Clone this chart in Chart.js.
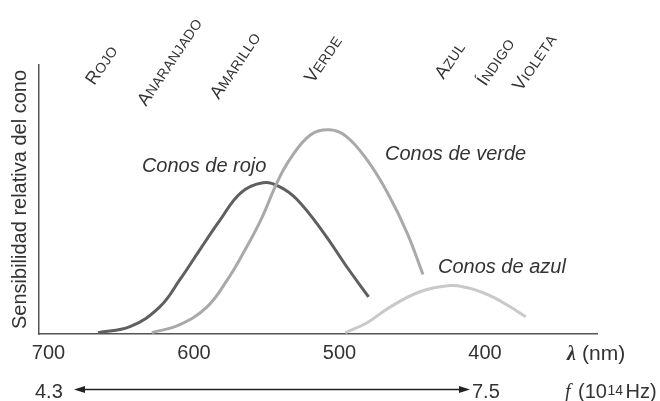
<!DOCTYPE html>
<html><head><meta charset="utf-8">
<script src="https://cdn.jsdelivr.net/npm/chart.js@4"></script>
<style>html,body{margin:0;padding:0;background:#fff}#wrap{width:660px;height:401px}</style>
</head><body><div id="wrap"><canvas id="c" width="660" height="401"></canvas></div>
<script>
// ---- data ----
const tickValues = [700, 600, 500, 400];
const redWavelength   = [666, 644, 623.5, 609.7, 596, 582, 568, 552.6, 541, 529, 511, 495, 480];
const redSensitivity  = [0.005, 0.027, 0.101, 0.202, 0.313, 0.424, 0.524, 0.562, 0.547, 0.499, 0.377, 0.250, 0.138];
const greenWavelength = [629, 609.7, 591, 577, 566, 554, 543, 534, 520, 506.5, 495, 481, 467, 453.6, 442.6];
const greenSensitivity= [0.005, 0.035, 0.101, 0.202, 0.302, 0.424, 0.562, 0.650, 0.740, 0.759, 0.733, 0.647, 0.525, 0.377, 0.221];
const blueWavelength  = [496, 481, 465, 444.7, 424, 412, 403, 394, 383, 372];
const blueSensitivity = [0.005, 0.042, 0.101, 0.157, 0.180, 0.172, 0.157, 0.136, 0.102, 0.064];
const colorNames = ['ROJO', 'ANARANJADO', 'AMARILLO', 'VERDE', 'AZUL', 'ÍNDIGO', 'VIOLETA'];
const colorNameWavelength = [668.5, 633, 583, 518, 428.5, 399.5, 375];
const coneLabels = ['Conos de rojo', 'Conos de verde', 'Conos de azul'];
const coneLabelWavelength = [635.8, 468.7, 432.3];
const coneLabelSensitivity = [0.603, 0.647, 0.228];
const freqEnds = ['4.3', '7.5'];

// ---- styles ----
const SANS = '"Liberation Sans", Arial, Helvetica, sans-serif';
const SERIF = '"Liberation Serif", "Times New Roman", serif';
const TEXT = '#333';
const colorNameBaseY = [86, 107, 100, 84, 80, 87, 92];

function pts(xs, ys){ return xs.map((x,i)=>({x:x, y:ys[i]})); }

function drawSmallCaps(ctx, text, x, y, angleDeg){
  ctx.save();
  ctx.translate(x, y);
  ctx.rotate(-angleDeg*Math.PI/180);
  ctx.textAlign = 'left'; ctx.textBaseline = 'alphabetic';
  let cx = 0;
  for (let i = 0; i < text.length; i++){
    const ch = text[i];
    ctx.font = (i === 0 ? '18px ' : '14px ') + SANS;
    ctx.fillText(ch, cx, 0);
    cx += ctx.measureText(ch).width + 0.3;
  }
  ctx.restore();
}

const annot = {
  id: 'annot',
  afterDraw(chart){
    const ctx = chart.ctx, xs = chart.scales.x, ys = chart.scales.y, ca = chart.chartArea;
    ctx.save();
    ctx.fillStyle = TEXT;
    colorNames.forEach((n,i)=>{
      drawSmallCaps(ctx, n, xs.getPixelForValue(colorNameWavelength[i]), colorNameBaseY[i], 56);
    });
    ctx.font = 'italic 20px ' + SANS;
    ctx.textAlign = 'left'; ctx.textBaseline = 'alphabetic';
    coneLabels.forEach((t,i)=>{
      ctx.fillText(t, xs.getPixelForValue(coneLabelWavelength[i]), ys.getPixelForValue(coneLabelSensitivity[i]));
    });
    const lb = 360;
    ctx.font = 'italic bold 20px ' + SERIF;
    ctx.fillText('λ', ca.right - 30, lb);
    ctx.font = '21px ' + SANS;
    ctx.fillText('(nm)', ca.right - 15, lb);
    const fy = 389.5, fb = 398;
    ctx.font = '20px ' + SANS;
    ctx.fillText(freqEnds[0], 35, fb);
    ctx.fillText(freqEnds[1], 472, fb);
    const x1 = 74, x2 = 470, hl = 11, hw = 3.5;
    ctx.strokeStyle = '#222'; ctx.lineWidth = 1.3;
    ctx.beginPath(); ctx.moveTo(x1 + hl - 2, fy); ctx.lineTo(x2 - hl + 2, fy); ctx.stroke();
    ctx.fillStyle = '#222';
    ctx.beginPath(); ctx.moveTo(x1, fy); ctx.lineTo(x1 + hl, fy - hw); ctx.lineTo(x1 + hl, fy + hw); ctx.closePath(); ctx.fill();
    ctx.beginPath(); ctx.moveTo(x2, fy); ctx.lineTo(x2 - hl, fy - hw); ctx.lineTo(x2 - hl, fy + hw); ctx.closePath(); ctx.fill();
    ctx.fillStyle = TEXT;
    ctx.font = 'italic 20px ' + SERIF;
    ctx.fillText('f', 565, fb);
    ctx.font = '20px ' + SANS;
    ctx.fillText('(10', 578, fb);
    let w = ctx.measureText('(10').width;
    ctx.font = '14px ' + SANS;
    ctx.fillText('14', 578 + w + 0.5, fb - 3);
    let w2 = ctx.measureText('14').width;
    ctx.font = '20px ' + SANS;
    ctx.fillText('Hz)', 578 + w + w2 + 3, fb);
    ctx.restore();
  }
};

new Chart(document.getElementById('c'), {
  type: 'line',
  data: { datasets: [
    { label: 'Conos de rojo', data: pts(redWavelength, redSensitivity), borderColor: '#5f5f5f', order: 3 },
    { label: 'Conos de verde', data: pts(greenWavelength, greenSensitivity), borderColor: '#a9a9a9', order: 1 },
    { label: 'Conos de azul', data: pts(blueWavelength, blueSensitivity), borderColor: '#c9c9c9', order: 2 }
  ]},
  options: {
    responsive: false, devicePixelRatio: 1, animation: false,
    layout: { padding: { left: 0, right: 63, top: 65, bottom: 0 } },
    elements: { point: { radius: 0 }, line: { borderWidth: 3, tension: 0.4, fill: false, borderCapStyle: 'butt' } },
    plugins: { legend: { display: false }, tooltip: { enabled: false }, title: { display: false } },
    scales: {
      x: {
        type: 'linear', reverse: true, min: 323, max: 707,
        grid: { display: false, drawTicks: false },
        border: { display: true, color: '#555', width: 1.5 },
        ticks: { font: { size: 20, family: SANS }, color: TEXT, padding: 7, autoSkip: false, maxRotation: 0 },
        afterBuildTicks: s => { s.ticks = tickValues.map(v => ({ value: v })); },
        afterFit: s => { s.height = 67; }
      },
      y: {
        min: 0, max: 1,
        grid: { display: false, drawTicks: false },
        border: { display: true, color: '#555', width: 1.5 },
        ticks: { display: false },
        title: { display: true, text: 'Sensibilidad relativa del cono', font: { size: 20, family: SANS }, color: TEXT, padding: { top: 8, bottom: 0 } },
        afterFit: s => { s.width = 38.3; }
      }
    }
  },
  plugins: [annot]
});
</script>
</body></html>
